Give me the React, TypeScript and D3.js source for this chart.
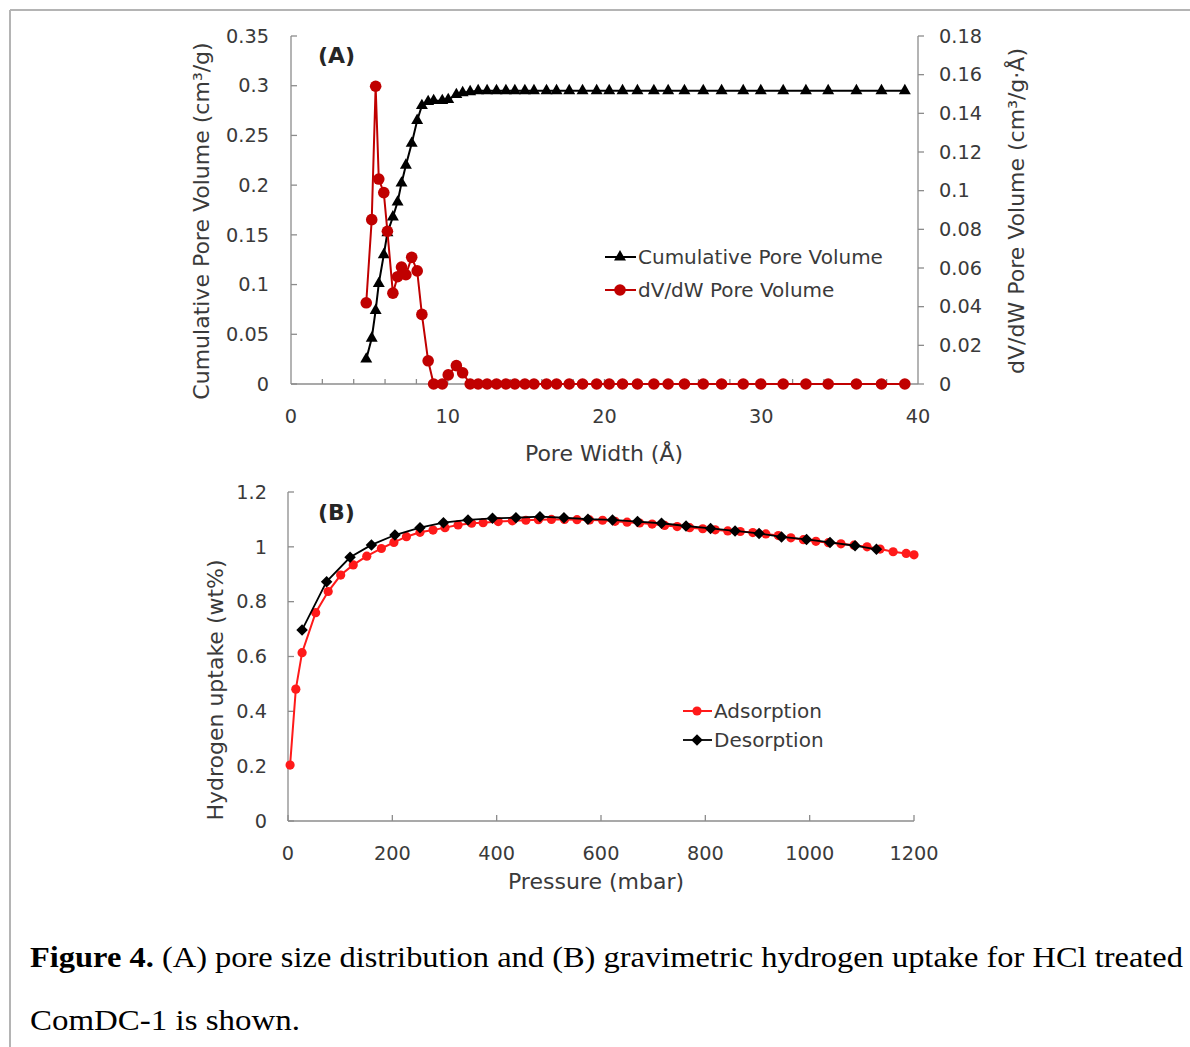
import React from "react";
import { scaleLinear, line, symbol, symbolTriangle, symbolSquare } from "d3";

// (A) pore size distribution
const poreWidth = [
  4.8, 5.15, 5.4, 5.6, 5.92, 6.15, 6.5, 6.8, 7.05, 7.33, 7.7, 8.05, 8.35, 8.75,
  9.1, 9.65, 10.03, 10.55, 10.95, 11.43, 11.94, 12.51, 13.11, 13.71, 14.28,
  14.92, 15.5, 16.3, 16.94, 17.75, 18.6, 19.5, 20.3, 21.15, 22.1, 23.15, 24.06,
  25.1, 26.3, 27.47, 28.85, 29.97, 31.4, 32.85, 34.27, 36.07, 37.67, 39.16,
];
const cumulativeVolume = [
  0.025, 0.046, 0.074, 0.101, 0.13, 0.152, 0.168, 0.183, 0.202, 0.22, 0.242,
  0.265, 0.28, 0.284, 0.285, 0.285, 0.286, 0.291, 0.293, 0.294, 0.295, 0.295,
  0.295, 0.295, 0.295, 0.295, 0.295, 0.295, 0.295, 0.295, 0.295, 0.295, 0.295,
  0.295, 0.295, 0.295, 0.295, 0.295, 0.295, 0.295, 0.295, 0.295, 0.295, 0.295,
  0.295, 0.295, 0.295, 0.295,
];
const dvdwVolume = [
  0.042, 0.085, 0.154, 0.106, 0.099, 0.079, 0.047, 0.0555, 0.0605, 0.0565,
  0.0655, 0.0585, 0.036, 0.012, 0, 0, 0.0047, 0.0095, 0.0058, 0, 0, 0, 0, 0, 0,
  0, 0, 0, 0, 0, 0, 0, 0, 0, 0, 0, 0, 0, 0, 0, 0, 0, 0, 0, 0, 0, 0, 0,
];
const leftTicksA = [0, 0.05, 0.1, 0.15, 0.2, 0.25, 0.3, 0.35];
const rightTicksA = [0, 0.02, 0.04, 0.06, 0.08, 0.1, 0.12, 0.14, 0.16, 0.18];
const xLabelsA = [0, 10, 20, 30, 40];
const xTicksA = [2, 4, 6, 8, 10, 12, 14, 16, 18, 20, 22, 24, 26, 28, 30, 32, 34, 36, 38];

// (B) hydrogen uptake
const adsPressure = [
  4, 15, 27, 53, 77, 101, 125, 151, 179, 203, 227, 253, 278, 301, 326, 352, 374,
  403, 430, 456, 480, 505, 530, 554, 578, 603, 627, 650, 674, 698, 722, 746, 770,
  795, 819, 843, 867, 891, 916, 940, 964, 988, 1012, 1036, 1060, 1085, 1110,
  1135, 1160, 1185, 1200,
];
const adsUptake = [
  0.204, 0.481, 0.614, 0.76, 0.837, 0.897, 0.934, 0.966, 0.994, 1.016, 1.037,
  1.053, 1.061, 1.07, 1.08, 1.086, 1.088, 1.092, 1.095, 1.097, 1.099, 1.1, 1.1,
  1.099, 1.098, 1.097, 1.093, 1.09, 1.087, 1.083, 1.078, 1.074, 1.07, 1.066,
  1.062, 1.058, 1.056, 1.052, 1.047, 1.041, 1.033, 1.026, 1.02, 1.015, 1.011,
  1.006, 1.0, 0.992, 0.982, 0.976, 0.971,
];
const desPressure = [
  27, 74, 119, 160, 205, 253, 298, 345, 392, 437, 483, 529, 575, 622, 670, 716,
  763, 810, 857, 903, 946, 994, 1039, 1087, 1128,
];
const desUptake = [
  0.697, 0.873, 0.962, 1.007, 1.043, 1.07, 1.088, 1.098, 1.104, 1.106, 1.11,
  1.106, 1.101, 1.098, 1.092, 1.086, 1.076, 1.067, 1.058, 1.049, 1.036, 1.027,
  1.016, 1.004, 0.991,
];
const yTicksB = [0, 0.2, 0.4, 0.6, 0.8, 1, 1.2];
const xTicksB = [0, 200, 400, 600, 800, 1000, 1200];

const width = 1190;
const height = 1047;
const font = "'DejaVu Sans', sans-serif";
const axisColor = "#8c8c8c";
const textColor = "#3a3a3a";
const darkRed = "#c00000";
const brightRed = "#ff1a1a";
const tickSize = 19.3;
const titleSize = 22;
const legendSize = 20;

const xA = scaleLinear().domain([0, 40]).range([291, 918]);
const yLeftA = scaleLinear().domain([0, 0.35]).range([384, 36]);
const yRightA = scaleLinear().domain([0, 0.18]).range([384, 36]);

const xB = scaleLinear().domain([0, 1200]).range([288, 914]);
const yB = scaleLinear().domain([0, 1.2]).range([821, 492]);

const tri = symbol().type(symbolTriangle).size(62)();
const dia = symbol().type(symbolSquare).size(66)();

const fmt = (v: number) => String(+v.toFixed(2));

export default function App() {
  const cumLine = line<number>()
    .x((d, i) => xA(poreWidth[i]))
    .y((d) => yLeftA(d));
  const dvLine = line<number>()
    .x((d, i) => xA(poreWidth[i]))
    .y((d) => yRightA(d));
  const adsLine = line<number>()
    .x((d, i) => xB(adsPressure[i]))
    .y((d) => yB(d));
  const desLine = line<number>()
    .x((d, i) => xB(desPressure[i]))
    .y((d) => yB(d));

  return (
    <svg
      width={width}
      height={height}
      style={{ position: "absolute", left: 0, top: 0, background: "#fff" }}
      fontFamily={font}
    >
      {/* page frame */}
      <line x1={10} y1={10} x2={width} y2={10} stroke="#b4b4b4" strokeWidth={2} />
      <line x1={10} y1={10} x2={10} y2={height} stroke="#b4b4b4" strokeWidth={2} />

      {/* ---------- (A) ---------- */}
      <g>
        <line x1={xA(0)} x2={xA(0)} y1={yLeftA(0)} y2={yLeftA(0.35)} stroke={axisColor} strokeWidth={1.3} />
        <line x1={xA(40)} x2={xA(40)} y1={yRightA(0)} y2={yRightA(0.18)} stroke={axisColor} strokeWidth={1.3} />
        <line x1={xA(0)} x2={xA(40)} y1={yLeftA(0)} y2={yLeftA(0)} stroke={axisColor} strokeWidth={1.3} />
        {leftTicksA.map((t) => (
          <g key={"la" + t} transform={`translate(${xA(0)},${yLeftA(t)})`}>
            <line x2={6} stroke={axisColor} strokeWidth={1.3} />
            <text x={-22} dy="0.35em" textAnchor="end" fontSize={tickSize} fill={textColor}>
              {fmt(t)}
            </text>
          </g>
        ))}
        {rightTicksA.map((t) => (
          <g key={"ra" + t} transform={`translate(${xA(40)},${yRightA(t)})`}>
            <line x2={6} stroke={axisColor} strokeWidth={1.3} />
            <text x={21} dy="0.35em" textAnchor="start" fontSize={tickSize} fill={textColor}>
              {fmt(t)}
            </text>
          </g>
        ))}
        {xTicksA.map((t) => (
          <line key={"xa" + t} x1={xA(t)} x2={xA(t)} y1={yLeftA(0)} y2={yLeftA(0) - 5} stroke={axisColor} strokeWidth={1.3} />
        ))}
        {xLabelsA.map((t) => (
          <text key={"xl" + t} x={xA(t)} y={yLeftA(0) + 32} dy="0.35em" textAnchor="middle" fontSize={tickSize} fill={textColor}>
            {t}
          </text>
        ))}
        <text x={604} y={453} dy="0.35em" textAnchor="middle" fontSize={titleSize} fill={textColor}>
          Pore Width (Å)
        </text>
        <text transform="translate(201,221) rotate(-90)" dy="0.35em" textAnchor="middle" fontSize={titleSize} fill={textColor}>
          Cumulative Pore Volume (cm³/g)
        </text>
        <text transform="translate(1016,211) rotate(-90)" dy="0.35em" textAnchor="middle" fontSize={titleSize} fill={textColor}>
          dV/dW Pore Volume (cm³/g·Å)
        </text>
        <text x={318} y={55} dy="0.35em" fontSize={22} fontWeight="bold" fill="#262626">
          (A)
        </text>

        <path d={cumLine(cumulativeVolume) || ""} fill="none" stroke="#000" strokeWidth={2} />
        {cumulativeVolume.map((d, i) => (
          <path key={"c" + i} d={tri} transform={`translate(${xA(poreWidth[i])},${yLeftA(d)})`} fill="#000" />
        ))}
        <path d={dvLine(dvdwVolume) || ""} fill="none" stroke={darkRed} strokeWidth={2} />
        {dvdwVolume.map((d, i) => (
          <circle key={"d" + i} cx={xA(poreWidth[i])} cy={yRightA(d)} r={5.8} fill={darkRed} />
        ))}

        {/* legend A */}
        <line x1={605} x2={636} y1={257} y2={257} stroke="#000" strokeWidth={2} />
        <path d={tri} transform="translate(620,257)" fill="#000" />
        <text x={638} y={257} dy="0.35em" fontSize={legendSize} fill={textColor}>
          Cumulative Pore Volume
        </text>
        <line x1={605} x2={636} y1={290} y2={290} stroke={darkRed} strokeWidth={2} />
        <circle cx={620} cy={290} r={5.8} fill={darkRed} />
        <text x={638} y={290} dy="0.35em" fontSize={legendSize} fill={textColor}>
          dV/dW Pore Volume
        </text>
      </g>

      {/* ---------- (B) ---------- */}
      <g>
        <line x1={xB(0)} x2={xB(0)} y1={yB(0)} y2={yB(1.2)} stroke={axisColor} strokeWidth={1.3} />
        <line x1={xB(0)} x2={xB(1200)} y1={yB(0)} y2={yB(0)} stroke={axisColor} strokeWidth={1.3} />
        {yTicksB.map((t) => (
          <g key={"yb" + t} transform={`translate(${xB(0)},${yB(t)})`}>
            <line x2={6} stroke={axisColor} strokeWidth={1.3} />
            <text x={-21} dy="0.35em" textAnchor="end" fontSize={tickSize} fill={textColor}>
              {fmt(t)}
            </text>
          </g>
        ))}
        {xTicksB.map((t) => (
          <g key={"xb" + t} transform={`translate(${xB(t)},${yB(0)})`}>
            <line y2={-6} stroke={axisColor} strokeWidth={1.3} />
            <text y={32} dy="0.35em" textAnchor="middle" fontSize={tickSize} fill={textColor}>
              {t}
            </text>
          </g>
        ))}
        <text x={596} y={881} dy="0.35em" textAnchor="middle" fontSize={titleSize} fill={textColor}>
          Pressure (mbar)
        </text>
        <text transform="translate(215,690) rotate(-90)" dy="0.35em" textAnchor="middle" fontSize={titleSize} fill={textColor}>
          Hydrogen uptake (wt%)
        </text>
        <text x={318} y={512} dy="0.35em" fontSize={22} fontWeight="bold" fill="#262626">
          (B)
        </text>

        <path d={adsLine(adsUptake) || ""} fill="none" stroke={brightRed} strokeWidth={2} />
        {adsUptake.map((d, i) => (
          <circle key={"a" + i} cx={xB(adsPressure[i])} cy={yB(d)} r={4.6} fill={brightRed} />
        ))}
        <path d={desLine(desUptake) || ""} fill="none" stroke="#000" strokeWidth={1.8} />
        {desUptake.map((d, i) => (
          <path key={"s" + i} d={dia} transform={`translate(${xB(desPressure[i])},${yB(d)}) rotate(45)`} fill="#000" />
        ))}

        {/* legend B */}
        <line x1={683} x2={712} y1={711} y2={711} stroke={brightRed} strokeWidth={2} />
        <circle cx={697} cy={711} r={4.6} fill={brightRed} />
        <text x={714} y={711} dy="0.35em" fontSize={legendSize} fill={textColor}>
          Adsorption
        </text>
        <line x1={683} x2={712} y1={740} y2={740} stroke="#000" strokeWidth={1.8} />
        <path d={dia} transform="translate(697,740) rotate(45)" fill="#000" />
        <text x={714} y={740} dy="0.35em" fontSize={legendSize} fill={textColor}>
          Desorption
        </text>
      </g>

      {/* caption */}
      <text x={30} y={967} fontFamily="'Liberation Serif', 'Times New Roman', serif" fontSize={29} fill="#000" textLength={1153} lengthAdjust="spacingAndGlyphs">
        <tspan fontWeight="bold">Figure 4.</tspan> (A) pore size distribution and (B) gravimetric hydrogen uptake for HCl treated
      </text>
      <text x={30} y={1030} fontFamily="'Liberation Serif', 'Times New Roman', serif" fontSize={29} fill="#000" textLength={270} lengthAdjust="spacingAndGlyphs">
        ComDC-1 is shown.
      </text>
    </svg>
  );
}
